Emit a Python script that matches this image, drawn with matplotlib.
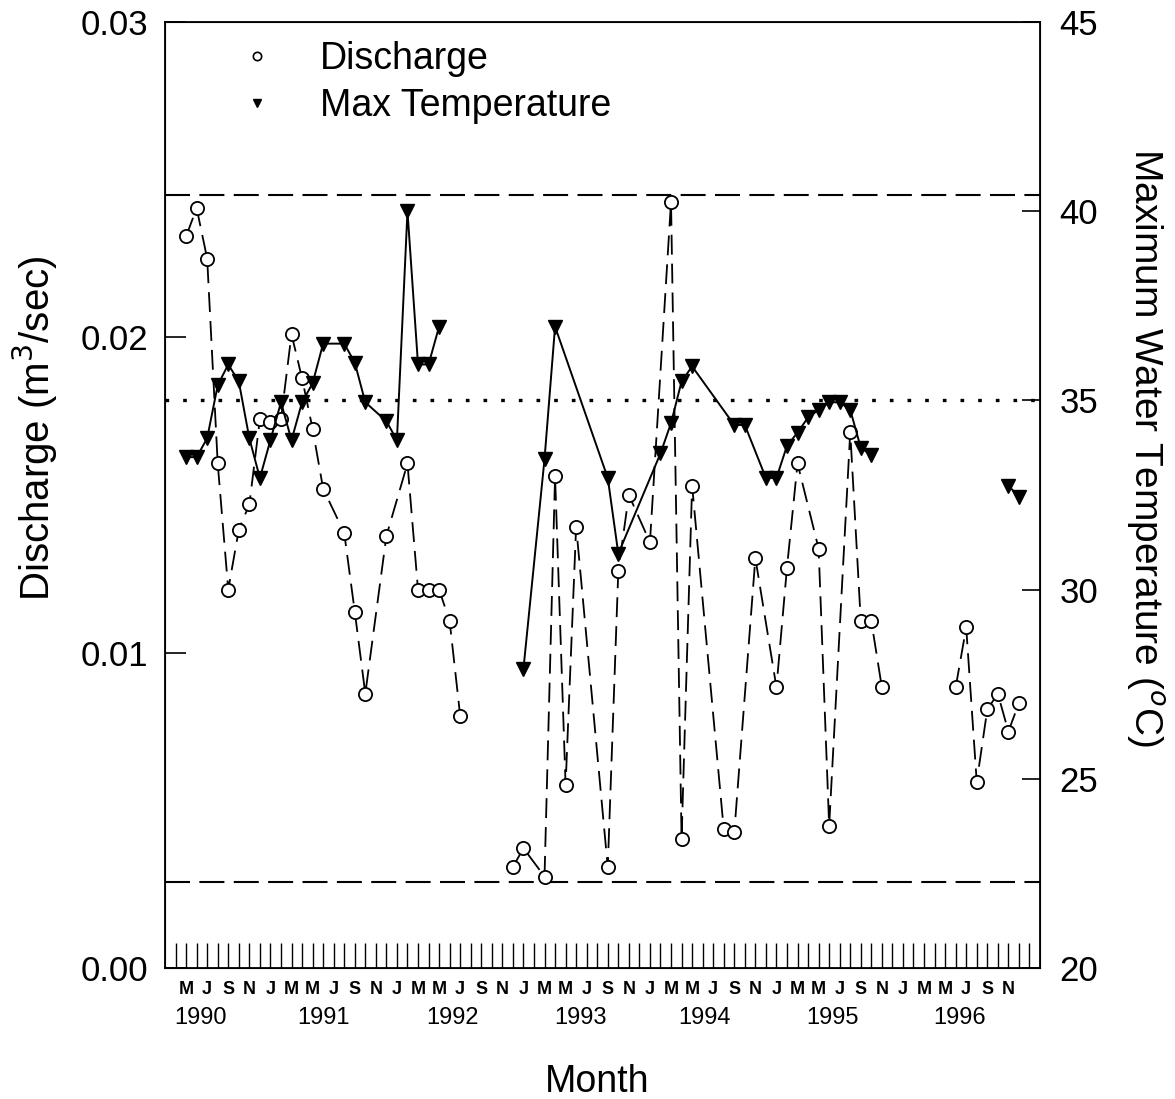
import numpy as np
import matplotlib
matplotlib.use("Agg")
import matplotlib.pyplot as plt
from matplotlib.lines import Line2D

plt.rcParams['font.family'] = ['Liberation Sans', 'DejaVu Sans']

# ---- data (month index: 0 = Jan 1990) ----
q_months = [4, 5, 6, 7, 8, 9, 10, 11, 12, 13, 14, 15, 16, 17, 19, 20, 21, 23, 25, 26, 27, 28, 29, 30,
            None,
            35, 36, 38, 39, 40, 41, 44, 45, 46, 48, 50, 51, 52, 55, 56, 58, 60, 61, 62, 64, 65, 67, 68, 69, 70,
            None,
            77, 78, 79, 80, 81, 82, 83]
q_values = [0.0232, 0.0241, 0.0225, 0.0160, 0.0120, 0.0139, 0.0147, 0.0174, 0.0173, 0.0174, 0.0201, 0.0187,
            0.0171, 0.0152, 0.0138, 0.0113, 0.0087, 0.0137, 0.0160, 0.0120, 0.0120, 0.0120, 0.0110, 0.0080,
            None,
            0.0032, 0.0038, 0.0029, 0.0156, 0.0058, 0.0140, 0.0032, 0.0126, 0.0150, 0.0135, 0.0243, 0.0041,
            0.0153, 0.0044, 0.0043, 0.0130, 0.0089, 0.0127, 0.0160, 0.0133, 0.0045, 0.0170, 0.0110, 0.0110,
            0.0089,
            None,
            0.0089, 0.0108, 0.0059, 0.0082, 0.0087, 0.0075, 0.0084]

t_months = [4, 5, 6, 7, 8, 9, 10, 11, 12, 13, 14, 15, 16, 17, 19, 20, 21, 23, 24, 25, 26, 27, 28,
            None,
            36, 38, 39, 44, 45, 49, 50, 51, 52, 56, 57, 59, 60, 61, 62, 63, 64, 65, 66, 67, 68, 69,
            None,
            82, 83]
t_values = [33.5, 33.5, 34.0, 35.4, 35.95, 35.5, 34.0, 32.95, 33.95, 34.95, 33.95, 34.95, 35.45, 36.5,
            36.5, 36.0, 34.95, 34.45, 33.95, 40.0, 35.95, 35.95, 36.95,
            None,
            27.9, 33.45, 36.95, 32.95, 30.95, 33.6, 34.4, 35.5, 35.9, 34.35, 34.35, 32.95, 32.95, 33.8,
            34.15, 34.55, 34.75, 34.95, 34.95, 34.75, 33.75, 33.55,
            None,
            32.75, 32.45]

q_upper = 0.02452
q_lower = 0.00273
t_ref = 35.0

month_letters = ['J', 'F', 'M', 'A', 'M', 'J', 'J', 'A', 'S', 'O', 'N', 'D']
label_months = list(range(4, 83, 2))
years = ['1990', '1991', '1992', '1993', '1994', '1995', '1996']
year_pos = [5.4, 17.0, 29.3, 41.4, 53.2, 65.3, 77.4]


def to_arr(v):
    return np.array([np.nan if x is None else x for x in v], dtype=float)


qm, qv = to_arr(q_months), to_arr(q_values)
tm, tv = to_arr(t_months), to_arr(t_values)

fig = plt.figure(figsize=(11.75, 10.99), dpi=100)
ax = fig.add_axes([165 / 1175, 1 - 968 / 1099, (1040 - 165) / 1175, (968 - 22) / 1099])
ax2 = ax.twinx()

# reference lines
ax.axhline(q_upper, color='black', lw=1.5, ls=(0, (12, 4.5)), zorder=1)
ax.axhline(q_lower, color='black', lw=1.5, ls=(0, (12, 4.5)), zorder=1)
ax2.axhline(t_ref, color='black', lw=2.4, ls=(0, (1.1, 4.2)), zorder=1)

# discharge
ax.plot(qm, qv, color='black', lw=1.3, ls=(0, (11, 5)), marker='o', ms=9.5,
        mfc='white', mec='black', mew=1.3, zorder=3)
# temperature
ax2.plot(tm, tv, color='black', lw=1.4, ls='-', marker='v', ms=10,
         mfc='black', mec='black', zorder=3)

ax.set_xlim(2, 85)
ax.set_ylim(0, 0.03)
ax2.set_ylim(20, 45)

ax.set_yticks([0.0, 0.01, 0.02, 0.03])
ax.set_yticklabels(['0.00', '0.01', '0.02', '0.03'])
ax2.set_yticks([20, 25, 30, 35, 40, 45])

ax.set_xticks(range(3, 85), minor=True)
ax.set_xticks(label_months)
ax.set_xticklabels([month_letters[m % 12] for m in label_months], fontsize=13, fontweight='bold')
ax.tick_params(axis='x', which='both', direction='in', length=18, width=1.0, pad=9)
ax.tick_params(axis='y', which='major', direction='in', length=15, width=1.2, labelsize=25, pad=12)
ax2.tick_params(axis='y', which='major', direction='in', length=13, width=1.2, labelsize=25, pad=14)

for s in ax.spines.values():
    s.set_linewidth(1.3)

for y, p in zip(years, year_pos):
    ax.text(p, -0.053, y, transform=ax.get_xaxis_transform(), ha='center', va='center', fontsize=17)

ax.set_xlabel('Month', fontsize=27)
ax.xaxis.set_label_coords((597 - 165) / 875, (968 - 1082) / 946)
ax.xaxis.label.set_va('center')
ax.set_ylabel('Discharge (m$^3$/sec)', fontsize=29)
ax.yaxis.set_label_coords((35 - 165) / 875, (968 - 428) / 946)
ax.yaxis.label.set_va('center')
ax2.set_ylabel('Maximum Water Temperature ($^o$C)', fontsize=28, rotation=270)
ax2.yaxis.set_label_coords((1145 - 165) / 875, (968 - 447) / 946)
ax2.yaxis.label.set_va('center')

handles = [Line2D([], [], ls='none', marker='o', ms=6, mfc='white', mec='black', mew=1.2),
           Line2D([], [], ls='none', marker='v', ms=6, mfc='black', mec='black')]
ax.legend(handles, ['Discharge', 'Max Temperature'], loc='upper left',
          bbox_to_anchor=((238 - 165) / 875, 0.980), frameon=False, fontsize=27,
          handlelength=1.0, handletextpad=1.19, labelspacing=0.3, borderpad=0, borderaxespad=0)

fig.savefig('out.png', dpi=100)
